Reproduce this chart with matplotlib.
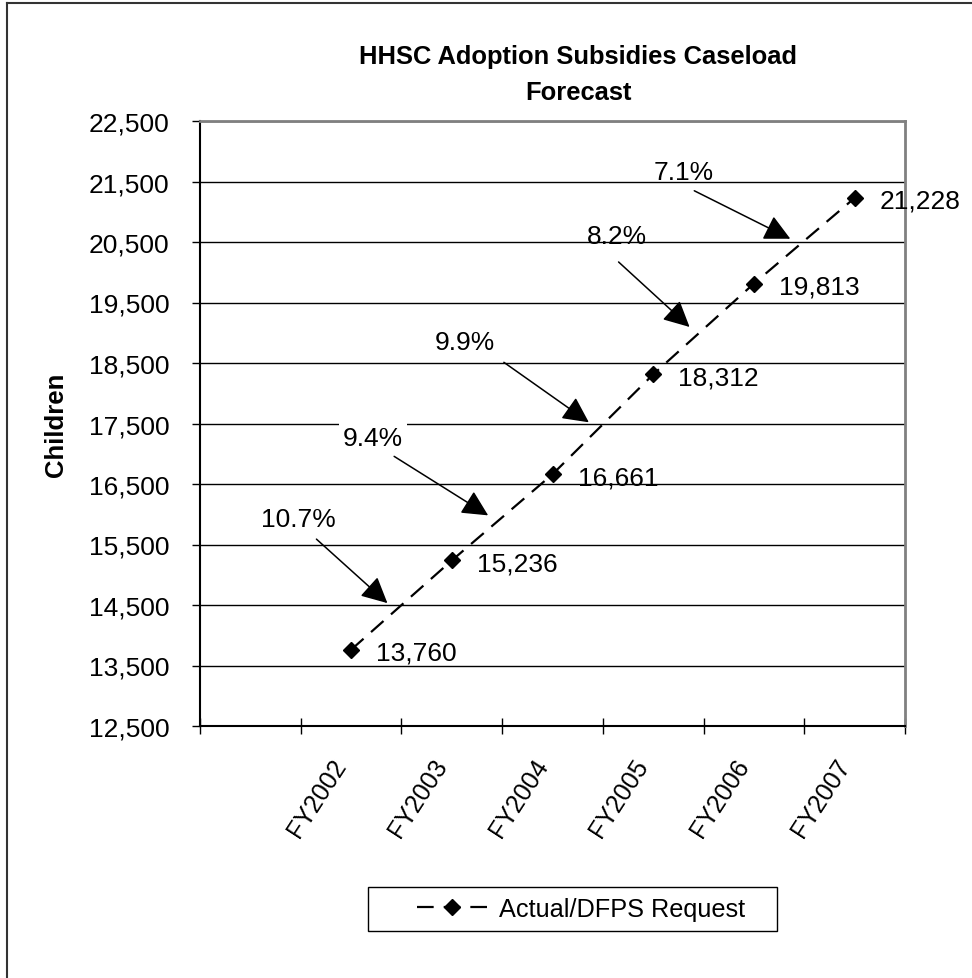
import matplotlib
matplotlib.use('Agg')
import matplotlib.pyplot as plt
import matplotlib.transforms as mtransforms
from matplotlib.lines import Line2D
from matplotlib.patches import Rectangle
from matplotlib.ticker import FuncFormatter
import numpy as np

# data
years = ['FY2002', 'FY2003', 'FY2004', 'FY2005', 'FY2006', 'FY2007']
caseload = [13760, 15236, 16661, 18312, 19813, 21228]
y_ticks = list(range(12500, 23500, 1000))

plt.rcParams['font.family'] = ['Liberation Sans', 'DejaVu Sans']

W, H = 972, 979
fig = plt.figure(figsize=(W / 100, H / 100), dpi=100)
ax = fig.add_axes([200 / W, 1 - 727 / H, 705 / W, 605 / H])

# first category slot is left empty, like the excel original
x = np.arange(1, len(years) + 1)
ax.plot(x, caseload, color='black', lw=1.6, dashes=(7.5, 4.5),
        marker='D', ms=8.5, label='Actual/DFPS Request', zorder=4)

ax.set_xlim(-0.5, len(years) + 0.5)
ax.set_ylim(y_ticks[0], y_ticks[-1])

# y axis
ax.set_yticks(y_ticks)
ax.yaxis.set_major_formatter(FuncFormatter(lambda v, p: f'{int(v):,}'))
ax.tick_params(axis='y', direction='out', length=6, width=1, pad=16, labelsize=19)
ax.yaxis.grid(True, color='black', lw=1)
ax.set_axisbelow(True)
ax.set_ylabel('Children', fontsize=18.5, fontweight='bold')
ax.yaxis.set_label_coords(-0.187, 0.5)

# x axis: ticks on category borders, labels on category centres
ax.set_xticks(np.arange(-0.5, len(years) + 1), labels=[''] * (len(years) + 2))
ax.set_xticks(x, minor=True)
ax.set_xticklabels(years, minor=True, rotation=57, ha='right', va='top')
ax.tick_params(axis='x', which='major', direction='inout', length=12, width=1)
ax.tick_params(axis='x', which='minor', length=0, pad=20, labelsize=18)

for s in ['top', 'right']:
    ax.spines[s].set_color('#808080')
    ax.spines[s].set_linewidth(2)
for s in ['left', 'bottom']:
    ax.spines[s].set_color('black')
    ax.spines[s].set_linewidth(1.5)

# value labels
for xi, v in zip(x, caseload):
    ax.annotate(f'{v:,}', (xi, v), xytext=(25, -3), textcoords='offset pixels',
                ha='left', va='center', fontsize=19)

# growth arrows pointing at the segment between years
pct = [(b / a - 1) * 100 for a, b in zip(caseload[:-1], caseload[1:])]
tail_off = [(-85, 66), (-108, 61), (-99, 62), (-85, 67), (-110, 50)]
text_off = [(-103, 86), (-129, 79), (-138, 82), (-87, 93), (-121, 69)]
sh = (-14, 2)
shift = mtransforms.ScaledTranslation(sh[0] / 100, sh[1] / 100, fig.dpi_scale_trans)
for i, p in enumerate(pct):
    mx = x[i] + 0.5
    my = (caseload[i] + caseload[i + 1]) / 2
    tx, ty = tail_off[i][0] - sh[0], tail_off[i][1] - sh[1]
    ax.annotate('', xy=(mx, my), xycoords=ax.transData + shift,
                xytext=(tx, ty), textcoords='offset pixels',
                arrowprops=dict(arrowstyle='-|>,head_length=0.8,head_width=0.4',
                                color='black', lw=1.1, mutation_scale=20,
                                shrinkA=0, shrinkB=0), zorder=5)
    box = dict(fc='white', ec='none', pad=3) if i == 1 else None
    ax.annotate(f'{p:.1f}%', xy=(mx, my), xycoords=ax.transData + shift,
                xytext=(text_off[i][0] - sh[0], text_off[i][1] - sh[1]),
                textcoords='offset pixels', ha='center', va='center',
                fontsize=19, bbox=box)

# title
fig.text(578 / W, 1 - 57 / H, 'HHSC Adoption Subsidies Caseload', ha='center',
         va='center', fontsize=18.4, fontweight='bold')
fig.text(578 / W, 1 - 93 / H, 'Forecast', ha='center', va='center',
         fontsize=18.4, fontweight='bold')

# legend with its own frame
fig.legend(loc='center left', bbox_to_anchor=(404 / W, 1 - 910 / H), frameon=False,
           fontsize=18.2, handlelength=2.8, handletextpad=0.45, borderpad=0)
fig.add_artist(Rectangle((368 / W, 1 - 932 / H), 409 / W, 44 / H,
                         transform=fig.transFigure, fill=False, ec='black', lw=1))

# chart area border (cut at right/bottom in the original)
fig.add_artist(Line2D([7 / W, 7 / W], [0, 1 - 4 / H], transform=fig.transFigure,
                      color='#333333', lw=1.5))
fig.add_artist(Line2D([7 / W, 1], [1 - 4 / H, 1 - 4 / H], transform=fig.transFigure,
                      color='#333333', lw=1.5))

fig.savefig('out.png', dpi=100)
